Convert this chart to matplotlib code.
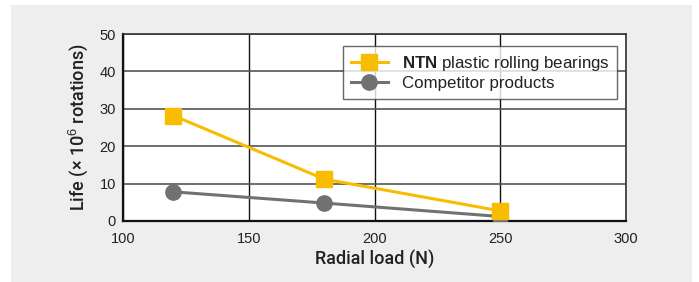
import matplotlib
matplotlib.use("Agg")
import matplotlib.pyplot as plt
from matplotlib.patches import Rectangle

plt.rcParams['font.family'] = ['Liberation Sans', 'DejaVu Sans']
plt.rcParams['mathtext.fontset'] = 'custom'
plt.rcParams['mathtext.rm'] = 'Liberation Sans'
plt.rcParams['mathtext.bf'] = 'Liberation Sans:bold'

radial_load = [120, 180, 250]
ntn_life = [28.2, 11.2, 2.7]
competitor_life = [7.8, 4.8, 1.2]
x_ticks = [100, 150, 200, 250, 300]
y_ticks = [0, 10, 20, 30, 40, 50]

W, H = 699, 282
fig = plt.figure(figsize=(W / 100, H / 100), dpi=100)
fig.patch.set_facecolor('white')
fig.patches.append(Rectangle((11 / W, 0), (692 - 11) / W, (282 - 5) / H,
                             transform=fig.transFigure, facecolor='#eeeeee',
                             edgecolor='none', zorder=-10))

ax = fig.add_axes([123 / W, 1 - 221 / H, (626 - 123) / W, (221 - 34) / H])
ax.set_facecolor('white')

ax.plot(radial_load, competitor_life, color='#717171', lw=2.2, marker='o',
        markersize=11, label='Competitor products', zorder=3)
ax.plot(radial_load, ntn_life, color='#f8bd00', lw=2.2, marker='s',
        markersize=11.5, label=r'$\mathbf{NTN}$ plastic rolling bearings', zorder=4)

ax.set_xlim(100, 300)
ax.set_ylim(0, 50)
ax.set_xticks(x_ticks)
ax.set_yticks(y_ticks)
ax.tick_params(length=0, labelsize=10.5, colors='#222222')
ax.tick_params(axis='x', pad=8)
ax.tick_params(axis='y', pad=5)

ax.grid(True, axis='x', color='#111111', lw=1.0)
ax.grid(True, axis='y', color='#555555', lw=1.2)
ax.set_axisbelow(True)

for s in ['left', 'bottom']:
    ax.spines[s].set_color('#111111')
    ax.spines[s].set_linewidth(1.6)
for s in ['top', 'right']:
    ax.spines[s].set_color('#333333')
    ax.spines[s].set_linewidth(1.2)

label_font = dict(family=['Roboto', 'Liberation Sans', 'DejaVu Sans'], weight='medium',
                  size=13, color='#222222')
ax.set_xlabel('Radial load (N)', labelpad=3, **label_font)
ax.set_ylabel(r'Life (× 10$^{6}$ rotations)', labelpad=7, **label_font)

handles, labels = ax.get_legend_handles_labels()
leg = ax.legend(handles[::-1], labels[::-1], loc='upper right',
                bbox_to_anchor=((617 - 123) / 503, (221 - 46) / 187),
                fontsize=12.2, frameon=True, fancybox=False, handlelength=2.2,
                borderpad=0.45, labelspacing=0.2, handletextpad=0.8,
                borderaxespad=0)
leg.get_frame().set_edgecolor('#444444')
leg.get_frame().set_linewidth(1.0)
for t in leg.get_texts():
    t.set_color('#222222')

fig.savefig('out.png', dpi=100)
